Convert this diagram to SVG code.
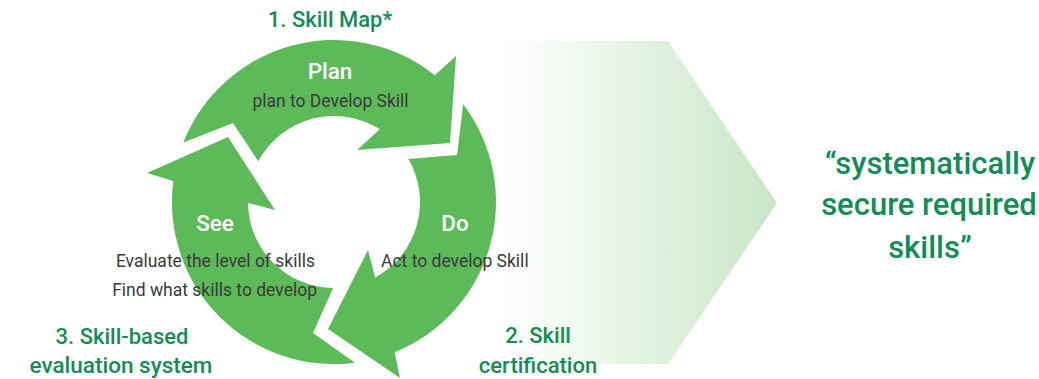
<svg xmlns="http://www.w3.org/2000/svg" width="1039" height="379" viewBox="0 0 1039 379">
<style>
.ring{fill:#5cba59;}
.lbl{font-family:Roboto,"Liberation Sans",sans-serif;fill:#148c58;font-weight:500;text-anchor:middle;}
.phase{font-family:Roboto,"Liberation Sans",sans-serif;fill:#ffffff;font-weight:500;font-size:22.5px;text-anchor:middle;}
.desc{font-family:Roboto,"Liberation Sans",sans-serif;fill:#3a3a3a;font-size:17.5px;}
</style>
<defs>
<linearGradient id="fade" x1="500" y1="0" x2="777" y2="0" gradientUnits="userSpaceOnUse">
<stop offset="0" stop-color="#ffffff"/>
<stop offset="1" stop-color="#c8e6c6"/>
</linearGradient>
</defs>
<rect width="1039" height="379" fill="#ffffff"/>
<g id="big-arrow">
<polygon points="500,41 668,41 777,203 668,364 500,364" fill="url(#fade)"/>
</g>
<g id="connectors">
<path id="plan-arrow" class="ring" d="M183.3,142.6 A162,162 0 0 1 434.8,75.2 L456,56 L450,143 L357,150 L379.8,129.2 A86,86 0 0 0 258.3,161.2 L233,123 Z"/>
<path id="do-arrow" class="ring" d="M463.2,104.3 A162,162 0 0 1 394.7,352.2 L400,378 L328,329 L368,250 L375.2,277.5 A86,86 0 0 0 408.4,158.9 L457,155 Z"/>
<path id="see-arrow" class="ring" d="M354.9,362.7 A162,162 0 0 1 173.3,181.1 L147,173 L228,137 L275,210 L248,203 A86,86 0 0 0 333.1,288 L313,333 Z"/>
</g>
<g id="node-plan">
<text class="lbl" x="330" y="27" font-size="22">1. Skill Map*</text>
<text class="phase" x="330" y="79">Plan</text>
<text class="desc" x="330.5" y="107" text-anchor="middle">plan to Develop Skill</text>
</g>
<g id="node-do">
<text class="phase" x="455" y="231">Do</text>
<text class="desc" x="381" y="267">Act to develop Skill</text>
<text class="lbl" x="538" y="343" font-size="22">2. Skill</text>
<text class="lbl" x="538" y="373" font-size="22">certification</text>
</g>
<g id="node-see">
<text class="phase" x="215" y="231">See</text>
<text class="desc" x="315" y="267" text-anchor="end">Evaluate the level of skills</text>
<text class="desc" x="317" y="296" text-anchor="end">Find what skills to develop</text>
<text class="lbl" x="122" y="344" font-size="22">3. Skill-based</text>
<text class="lbl" x="121" y="373" font-size="22.5">evaluation system</text>
</g>
<g id="node-goal">
<text class="lbl" x="930" y="174" font-size="31">“systematically</text>
<text class="lbl" x="929" y="215" font-size="31">secure required</text>
<text class="lbl" x="930" y="258" font-size="31">skills”</text>
</g>
</svg>
